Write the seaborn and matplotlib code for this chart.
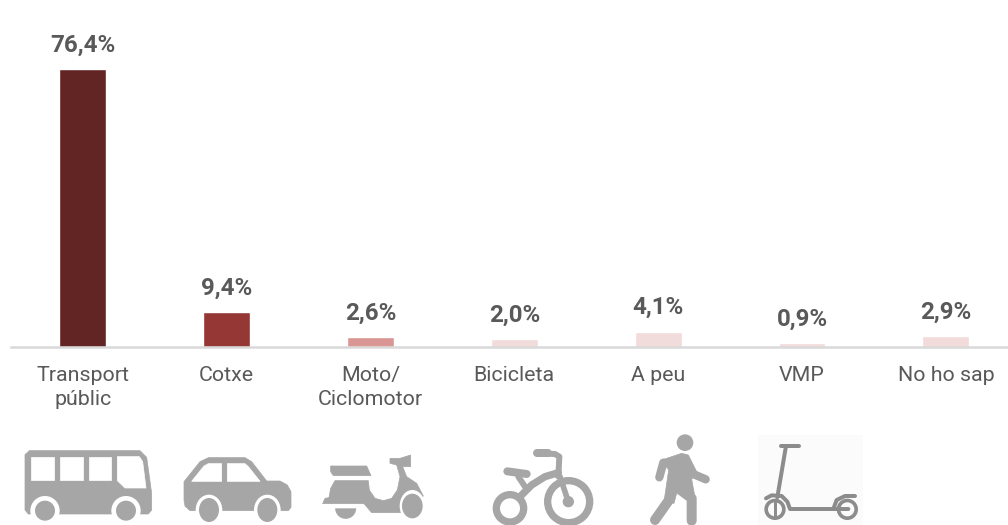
import matplotlib
matplotlib.use("Agg")
import matplotlib.pyplot as plt
import seaborn as sns
import pandas as pd
from matplotlib.patches import Ellipse, Polygon, Rectangle, Wedge
from matplotlib.lines import Line2D

categories = ["Transport\npúblic", "Cotxe", "Moto/\nCiclomotor", "Bicicleta", "A peu", "VMP", "No ho sap"]
values = [76.4, 9.4, 2.6, 2.0, 4.1, 0.9, 2.9]
value_labels = ["76,4%", "9,4%", "2,6%", "2,0%", "4,1%", "0,9%", "2,9%"]
bar_colors = ["#632523", "#953735", "#D99694", "#F2DCDB", "#F2DCDB", "#F2DCDB", "#F2DCDB"]

sns.set_theme(style="white")
plt.rcParams["font.family"] = ["Roboto", "DejaVu Sans"]

W, H = 1008, 525
fig = plt.figure(figsize=(W / 100, H / 100), dpi=100, facecolor="white")
ax = fig.add_axes([10.8 / W, (H - 346.5) / H, 1007 / W, 346.5 / H])
df = pd.DataFrame({"cat": categories, "val": values})
sns.barplot(data=df, x="cat", y="val", hue="cat", palette=bar_colors, legend=False,
            width=0.325, saturation=1, ax=ax)
ax.set_xlim(-0.5, 6.5)
ax.set_ylim(0, 346.5 / 3.63)
ax.set_xlabel("")
ax.set_ylabel("")
ax.set_yticks([])
for s in ["top", "left", "right"]:
    ax.spines[s].set_visible(False)
ax.spines["bottom"].set_color("#D9D9D9")
ax.spines["bottom"].set_linewidth(1.8)
ax.tick_params(axis="x", length=0, pad=14, labelsize=15.4, labelcolor="#595959")
for t in ax.get_xticklabels():
    t.set_linespacing(1.36)
for cont, lab in zip(ax.containers, value_labels):
    ax.bar_label(cont, labels=[lab], padding=9, fontsize=17.4, fontweight="bold", color="#595959")

# pictograms, drawn in pixel space of the figure
ov = fig.add_axes([0, 0, 1, 1], facecolor="none")
ov.set_xlim(0, W)
ov.set_ylim(H, 0)
ov.axis("off")
G = "#A6A6A6"


def zmap(pts, x0):
    return [(x0 + px / 3, 420 + py / 3) for px, py in pts]


def poly(pts, x0, c=G, z=2):
    ov.add_patch(Polygon(zmap(pts, x0), closed=True, fc=c, ec=c, lw=0.5, joinstyle="round", zorder=z))


def ell(cx, cy, rx, ry, x0, c=G, z=3):
    (x, y), = zmap([(cx, cy)], x0)
    ov.add_patch(Ellipse((x, y), 2 * rx / 3, 2 * ry / 3, fc=c, ec="none", zorder=z))


def stroke(pts, x0, w, c=G, z=3):
    xs, ys = zip(*zmap(pts, x0))
    ov.add_line(Line2D(xs, ys, color=c, lw=w / 3 * 0.72, solid_capstyle="round", solid_joinstyle="round", zorder=z))


# bus
poly([(88, 92), (420, 92), (440, 112), (455, 220), (455, 270), (445, 282), (85, 282), (75, 270), (75, 104)], 0)
for a, b in [(93, 162), (180, 248), (266, 334)]:
    poly([(a, 110), (b, 110), (b, 179), (a, 179)], 0, "white", 3)
poly([(352, 110), (418, 110), (428, 125), (438, 204), (375, 204), (352, 182)], 0, "white", 3)
for cx in (135, 378):
    ell(cx, 272, 44, 44, 0, "white", 3)
    ell(cx, 272, 30, 30, 0, G, 4)

# car
poly([(552, 185), (600, 125), (625, 113), (735, 113), (755, 125), (800, 183), (840, 183), (862, 195),
      (873, 215), (873, 262), (865, 272), (570, 272), (555, 258), (552, 240)], 0)
poly([(575, 184), (612, 138), (625, 131), (665, 131), (665, 184)], 0, "white", 3)
poly([(682, 131), (735, 131), (745, 140), (780, 184), (682, 184)], 0, "white", 3)
for cx in (627, 802):
    ell(cx, 270, 40, 46, 0, "white", 3)
    ell(cx, 270, 30, 36, 0, G, 4)

# motorbike
poly([(992, 138), (1100, 138), (1113, 167), (1000, 167), (992, 155)], 0)
poly([(968, 251), (975, 235), (987, 233), (992, 205), (1005, 182), (1105, 182), (1108, 210), (1125, 235),
      (1150, 242), (1175, 235), (1192, 210), (1200, 170), (1190, 135), (1170, 130), (1170, 115), (1200, 115),
      (1232, 105), (1232, 140), (1208, 140), (1220, 170), (1250, 190), (1270, 228), (1205, 278), (1115, 278),
      (1092, 251)], 0)
ell(1237, 258, 38, 48, 0, "white", 3)
ell(1237, 258, 31, 37, 0, G, 4)
(x, y), = zmap([(1037, 265)], 0)
ov.add_patch(Wedge((x, y), 10.5, 0, 180, fc=G, ec="none", zorder=3))

# bicycle
for cx, cy, ro, ri in [(296, 245, 74, 52), (120, 265, 52, 30)]:
    ell(cx, cy, ro, ro, 470, G, 3)
    ell(cx, cy, ri, ri, 470, "white", 3.5)
ell(295, 245, 17, 17, 470, G, 5)
stroke([(270, 170), (295, 245)], 470, 17, z=5)
stroke([(155, 225), (185, 195), (225, 170), (265, 158)], 470, 22, z=4)
stroke([(265, 170), (268, 110), (255, 102), (202, 100)], 470, 18, z=4)
stroke([(200, 100), (235, 100)], 470, 24, z=4)
stroke([(112, 154), (170, 162)], 470, 24, z=4)
stroke([(145, 170), (165, 200)], 470, 18, z=4)

# pedestrian
ell(645, 68, 25, 25, 470, G, 3)
poly([(575, 120), (635, 100), (655, 105), (680, 155), (665, 178), (675, 232), (660, 232), (640, 205),
      (622, 212), (612, 250), (582, 245), (596, 150)], 470)
stroke([(580, 128), (568, 172)], 470, 25)
stroke([(665, 160), (707, 178)], 470, 25)
stroke([(597, 240), (555, 300)], 470, 30)
stroke([(625, 205), (665, 235), (665, 302)], 470, 30)

# kick scooter
(x, y), = zmap([(863, 45)], 470)
ov.add_patch(Rectangle((x, y), 317 / 3, 270 / 3, fc="#FBFBFB", ec="none", zorder=2))
K = "#8C8C8C"
stroke([(932, 78), (988, 78)], 470, 12, K)
stroke([(948, 78), (922, 232)], 470, 12, K)
for cx in (915, 1132):
    ell(cx, 268, 32, 32, 470, K, 3)
    ell(cx, 268, 21, 21, 470, "#FBFBFB", 3.2)
stroke([(915, 245), (915, 290)], 470, 9, K, 4)
stroke([(888, 235), (905, 226), (935, 228), (952, 245), (960, 267), (1135, 267)], 470, 12, K, 4)
stroke([(1090, 267), (1100, 240), (1125, 228), (1155, 228)], 470, 12, K, 4)

fig.savefig("out.png", dpi=100)
